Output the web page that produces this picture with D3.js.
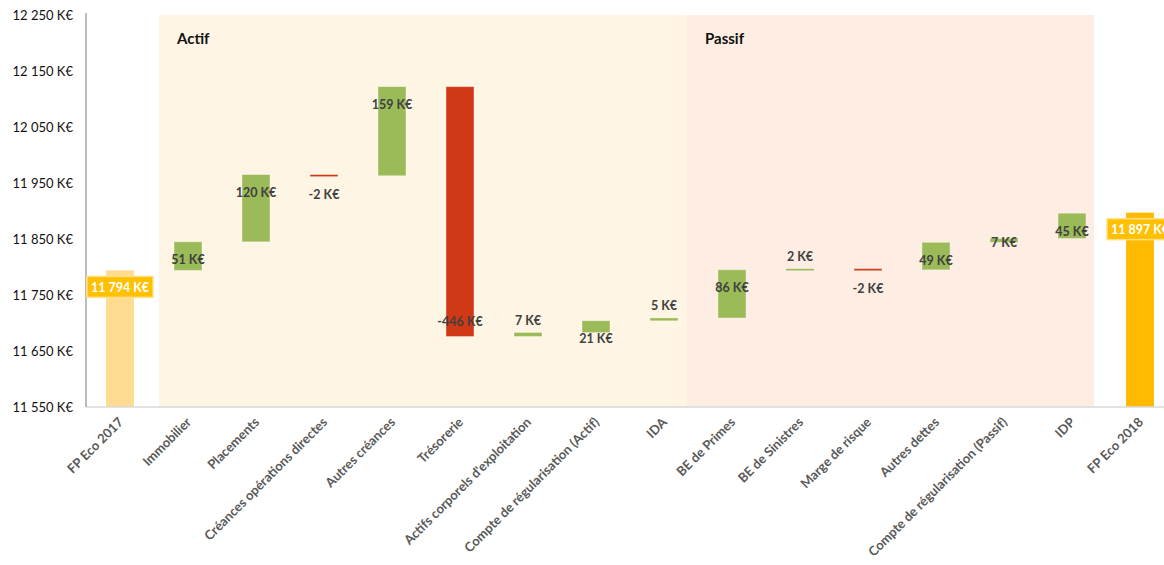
<!DOCTYPE html>
<html>
<head>
<meta charset="utf-8">
<script src="https://cdn.jsdelivr.net/npm/d3@7"></script>
<style>
  body { margin: 0; background: #fff; }
  svg { display: block; font-family: Lato, "Open Sans", sans-serif; }
</style>
</head>
<body>
<svg id="chart" width="1164" height="565"></svg>
<script>
const width = 1164;
const height = 565;

// data
const categories = [
  "FP Eco 2017", "Immobilier", "Placements", "Créances opérations directes",
  "Autres créances", "Trésorerie", "Actifs corporels d'exploitation",
  "Compte de régularisation (Actif)", "IDA", "BE de Primes", "BE de Sinistres",
  "Marge de risque", "Autres dettes", "Compte de régularisation (Passif)", "IDP",
  "FP Eco 2018"
];
const startTotal = 11794;
const endTotal = 11897;
const deltas = [51, 120, -2, 159, -446, 7, 21, 5, 86, 2, -2, 49, 7, 45];
// where each step label sits (style only)
const labelPlace = ["in", "in", "below", "in", "in", "above", "in", "above", "in", "above", "below", "in", "mid", "in"];
const yTicks = [11550, 11650, 11750, 11850, 11950, 12050, 12150, 12250];
const sectionNames = ["Actif", "Passif"];
const sectionFirst = ["Immobilier", "BE de Primes"];
const sectionLast = ["IDA", "IDP"];
const sectionColors = ["#FFF5E4", "#FDEDE2"];

const fr = d3.formatLocale({ decimal: ",", thousands: " ", grouping: [3], currency: ["", " K€"], minus: "-" });
const fmt = fr.format(",.0f");
const keur = (v) => fmt(v) + " K€";

const margin = { top: 15, left: 86 };
const plotBottom = 407;

const svg = d3.select("#chart");

const x = d3.scaleBand()
  .domain(categories)
  .range([margin.left, margin.left + categories.length * 68])
  .paddingInner(0.59)
  .paddingOuter(0.295);

const y = d3.scaleLinear()
  .domain([11550, 12250])
  .range([plotBottom, margin.top]);

const cx = (c) => x(c) + x.bandwidth() / 2;

// steps
let running = startTotal;
const steps = deltas.map((d, i) => {
  const s = { cat: categories[i + 1], from: running, to: running + d, value: d, place: labelPlace[i] };
  running += d;
  return s;
});

// section backgrounds
const bgStart = [cx(sectionFirst[0]) - 29, cx(sectionLast[0]) + 23];
const bgEnd = [cx(sectionLast[0]) + 23, cx(sectionLast[1]) + 22];
sectionNames.forEach((name, i) => {
  svg.append("rect")
    .attr("x", bgStart[i])
    .attr("y", y(12250))
    .attr("width", bgEnd[i] - bgStart[i])
    .attr("height", plotBottom - y(12250))
    .attr("fill", sectionColors[i]);
  svg.append("text")
    .attr("x", bgStart[i] + 18)
    .attr("y", y(12250) + 29)
    .attr("font-size", 15)
    .attr("font-weight", "bold")
    .attr("fill", "#111")
    .text(name);
});

// y axis labels
svg.append("g")
  .selectAll("text")
  .data(yTicks)
  .join("text")
  .attr("x", 73)
  .attr("y", (d) => y(d))
  .attr("dy", "0.35em")
  .attr("text-anchor", "end")
  .attr("font-size", 13)
  .attr("fill", "#111")
  .text((d) => keur(d));

// totals
const totals = [
  { cat: categories[0], value: startTotal, color: "#FFDC91" },
  { cat: categories[categories.length - 1], value: endTotal, color: "#FFBA00" }
];
svg.append("g")
  .selectAll("rect")
  .data(totals)
  .join("rect")
  .attr("x", (d) => x(d.cat))
  .attr("y", (d) => y(d.value))
  .attr("width", x.bandwidth())
  .attr("height", (d) => plotBottom - y(d.value))
  .attr("fill", (d) => d.color);

// waterfall steps
svg.append("g")
  .selectAll("rect")
  .data(steps)
  .join("rect")
  .attr("x", (d) => x(d.cat))
  .attr("y", (d) => y(Math.max(d.from, d.to)))
  .attr("width", x.bandwidth())
  .attr("height", (d) => Math.max(2, Math.abs(y(d.from) - y(d.to))))
  .attr("fill", (d) => (d.value >= 0 ? "#9BBB59" : "#D13816"))
  .attr("stroke", "#fff")
  .attr("stroke-opacity", 0.35)
  .attr("stroke-width", 0.8);

// axis lines
svg.append("line")
  .attr("x1", margin.left).attr("x2", width)
  .attr("y1", plotBottom).attr("y2", plotBottom)
  .attr("stroke", "#D9D9D9").attr("stroke-width", 1.5);
svg.append("line")
  .attr("x1", margin.left).attr("x2", margin.left)
  .attr("y1", 13).attr("y2", plotBottom)
  .attr("stroke", "#A6A6A6").attr("stroke-width", 1.5);

// step labels
function labelY(d) {
  const top = y(Math.max(d.from, d.to));
  const bottom = y(Math.min(d.from, d.to));
  if (d.place === "above") return top - 12;
  if (d.place === "below") return bottom + 19;
  if (d.place === "mid") return (top + bottom) / 2 + 2;
  return d.value >= 0 ? top + 18 : bottom - 15;
}
svg.append("g")
  .selectAll("text")
  .data(steps)
  .join("text")
  .attr("x", (d) => cx(d.cat))
  .attr("y", labelY)
  .attr("dy", "0.35em")
  .attr("text-anchor", "middle")
  .attr("font-size", 12.5)
  .attr("font-weight", "bold")
  .attr("fill", "#404040")
  .text((d) => fmt(d.value) + " K€");

// total labels (boxed)
const totalLabel = svg.append("g")
  .selectAll("g")
  .data(totals)
  .join("g")
  .attr("transform", (d) => `translate(${cx(d.cat)},${y(d.value) + 17})`);
totalLabel.append("rect")
  .attr("x", -33).attr("y", -11)
  .attr("width", 66).attr("height", 21)
  .attr("fill", "#FFC000")
  .attr("stroke", "#FFE08A")
  .attr("stroke-width", 1.5);
totalLabel.append("text")
  .attr("dy", "0.35em")
  .attr("text-anchor", "middle")
  .attr("font-size", 12.5)
  .attr("font-weight", "bold")
  .attr("fill", "#fff")
  .text((d) => keur(d.value));

// x labels, rotated
svg.append("g")
  .selectAll("text")
  .data(categories)
  .join("text")
  .attr("transform", (d) => `translate(${cx(d) + 4},${plotBottom + 16}) rotate(-45)`)
  .attr("text-anchor", "end")
  .attr("font-size", 13)
  .attr("font-weight", "bold")
  .attr("fill", "#595959")
  .text((d) => d);
</script>
</body>
</html>
